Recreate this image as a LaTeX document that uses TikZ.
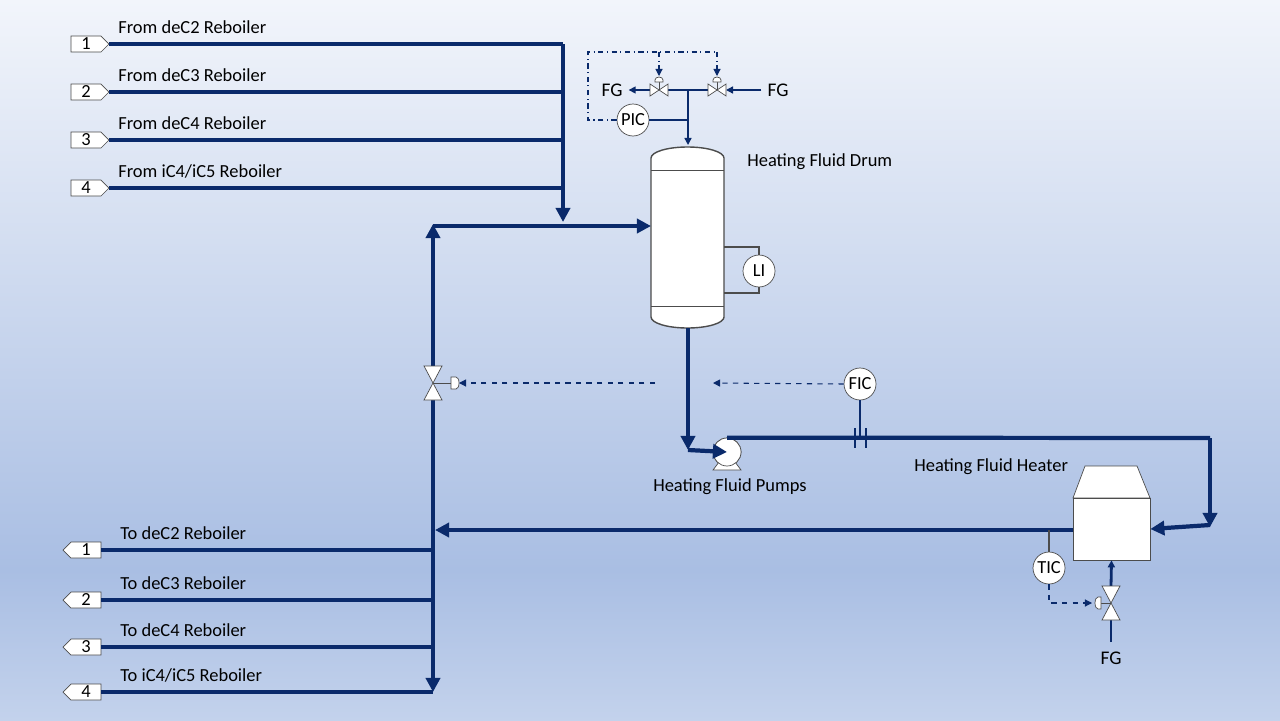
\documentclass[tikz,border=0pt]{standalone}
\usepackage{fontspec}
\setmainfont{Carlito}
\usetikzlibrary{arrows.meta,shapes.symbols,positioning}
\definecolor{pipe}{HTML}{0A2A6B}
\definecolor{bgtop}{HTML}{F2F5FB}
\definecolor{bgmid}{HTML}{A9BEE3}
\definecolor{bgbot}{HTML}{C3D2EC}
\begin{document}
\begin{tikzpicture}[x=0.02cm,y=-0.02cm,
    main/.style   = {draw=pipe, line width=2.4pt},
    thin/.style   = {draw=pipe, line width=0.8pt},
    sig/.style    = {draw=pipe, line width=0.6pt, dashed},
    dsig/.style   = {draw=pipe, line width=0.6pt, dash dot},
    arr/.style    = {-{Triangle[length=8pt,width=8pt]}},
    sarr/.style   = {-{Triangle[length=4pt,width=4pt]}},
    inst/.style   = {circle, draw=black!70, fill=white, minimum size=0.64cm, inner sep=0pt, font=\fontsize{10.5}{10}\selectfont},
    lbl/.style    = {anchor=west, inner sep=0pt, font=\fontsize{10.5}{10}\selectfont},
    tagin/.style  = {signal, signal to=east, draw=black!70, fill=white, minimum width=0.76cm, minimum height=0.32cm, inner sep=0pt, font=\fontsize{10.5}{10}\selectfont},
    tagout/.style = {signal, signal to=west, draw=black!70, fill=white, minimum width=0.76cm, minimum height=0.32cm, inner sep=0pt, font=\fontsize{10.5}{10}\selectfont},
    valve/.style  = {draw=black!70, fill=white, line width=0.4pt}]

    % background
    \useasboundingbox (0,0) rectangle (1280,720);
    \shade[top color=bgtop, bottom color=bgmid] (0,0) rectangle (1280,570);
    \shade[top color=bgmid, bottom color=bgbot] (0,570) rectangle (1280,720);

    % reboiler returns
    \foreach \n/\y/\t in {1/44/deC2, 2/92/deC3, 3/140/deC4, 4/188/iC4\slash iC5}
    {
        \node [tagin] (in\n) at (86,\y) {\n};
        \node [lbl] at (118,\y-17) {From \t{} Reboiler};
        \draw [main, line width=2pt] (in\n.east) -- (563,\y);
    }
    \draw [main, line width=2pt, arr] (563,44) -- (563,222);

    % reboiler supplies
    \foreach \n/\y/\t in {1/550/deC2, 2/600/deC3, 3/647/deC4, 4/692/iC4\slash iC5}
    {
        \node [tagout] (out\n) at (86,\y) {\n};
        \node [lbl] at (120,\y-17) {To \t{} Reboiler};
        \draw [main, line width=2pt] (out\n.east) -- (433,\y);
    }

    % drum
    \node [lbl] (drumlbl) at (747,162) {Heating Fluid Drum};
    \draw [thin, draw=black!70, fill=white] (651,158) arc (180:0:0.73cm and 0.22cm) -- (724,317) arc (0:-180:0.73cm and 0.22cm) -- cycle;
    \draw [draw=black!70] (651,170) -- (724,170) (651,306) -- (724,306);
    \coordinate (drumin) at (651,226);

    % bypass line with control valve
    \coordinate (bv) at (433,383);
    \draw [main, arr] (433,400) -- (433,692);
    \draw [main, arr] (433,366) -- (433,224);
    \draw [main, arr] (433,226) -- (drumin);
    \draw [valve] (424,366) -- (442,366) -- (424,400) -- (442,400) -- cycle;
    \draw [draw=black!70] (bv) -- (451,383);
    \draw [valve] (451,377) -- (456,377) arc (90:-90:0.06cm and 0.12cm) -- (451,389) -- cycle;

    % level indicator
    \node [inst] (li) at (759,271) {LI};
    \draw [thin, draw=black!70] (724,247) -- (759,247) -- (li.north);
    \draw [thin, draw=black!70] (li.south) -- (759,293) -- (724,293);

    % pump
    \node [circle, draw=black!70, fill=white, minimum size=0.56cm, inner sep=0pt] (pump) at (727,452) {};
    \draw [valve] (719,462) -- (713,470) -- (741,470) -- (735,462);
    \node [circle, draw=black!70, fill=white, minimum size=0.56cm, inner sep=0pt] at (pump) {};
    \node [font=\fontsize{10.5}{10}\selectfont] (pumplbl) at (730,487) {Heating Fluid Pumps};
    \draw [main, arr] (688,328) -- (688,450);
    \draw [main, arr] (688,450) -- (pump.center);

    % heater
    \node [lbl] (htrlbl) at (914,467) {Heating Fluid Heater};
    \draw [valve] (1073,498) -- (1085,466) -- (1137,466) -- (1150,498) -- cycle;
    \node [draw=black!70, fill=white, minimum width=1.54cm, minimum height=1.24cm, inner sep=0pt] (htr) at (1111.5,529) {};

    % discharge to heater
    \draw [main] (pump.north) -- (1210,438);
    \draw [main, arr] (1210,438) -- (1210,527);
    \draw [main, arr] (1210,525) -- (htr.east);
    \draw [main, arr] (htr.west |- 0,530) -- (435,530);
    \draw [draw=pipe, line width=1pt] (855,428) -- (855,448) (866,428) -- (866,448);

    % flow control
    \node [inst] (fic) at (860,384) {FIC};
    \draw [thin] (fic.south) -- (860,438);
    \draw [sig, sarr] (fic.west) -- (713,383);
    \draw [sig, sarr] (655,383) -- (459,383);

    % temperature control and fuel gas
    \node [inst] (tic) at (1049,568) {TIC};
    \draw [thin, draw=black!70] (1049,530) -- (tic.north);
    \node [font=\fontsize{11}{10}\selectfont] (fgh) at (1111,658) {FG};
    \draw [main, line width=1.6pt] (1111,642) -- (1111,620);
    \draw [main, line width=1.6pt, sarr] (1111,586) -- (htr.south);
    \draw [valve] (1102,586) -- (1120,586) -- (1102,620) -- (1120,620) -- cycle;
    \draw [draw=black!70] (1111,603) -- (1101,603);
    \draw [valve] (1101,597) -- (1098,597) arc (90:270:0.06cm and 0.12cm) -- (1101,609) -- cycle;
    \draw [sig, sarr] (tic.south) -- (1049,603) -- (1092,603);

    % pressure control
    \node [inst] (pic) at (633,120) {PIC};
    \node [font=\fontsize{11}{10}\selectfont] (fgl) at (612,90) {FG};
    \node [font=\fontsize{11}{10}\selectfont] (fgr) at (778,90) {FG};
    \draw [thin] (pic.east) -- (688,120);
    \draw [thin, sarr] (688,90) -- (688,145);
    \draw [thin] (668,90) -- (708,90);
    \draw [thin, sarr] (650,90) -- (fgl.east);
    \draw [thin, sarr] (fgr.west) -- (726,90);
    \foreach \vx in {659,717}
    {
        \draw [valve] (\vx-9,84) -- (\vx+9,96) -- (\vx+9,84) -- (\vx-9,96) -- cycle;
        \draw [draw=black!70] (\vx,90) -- (\vx,82);
        \draw [valve] (\vx-4,82) -- (\vx-4,80) arc (180:0:0.08cm and 0.06cm) -- (\vx+4,82) -- cycle;
        \draw [dsig, sarr] (\vx,52) -- (\vx,76);
    }
    \draw [dsig] (pic.west) -- (588,120) -- (588,52) -- (717,52);

\end{tikzpicture}
\end{document}
